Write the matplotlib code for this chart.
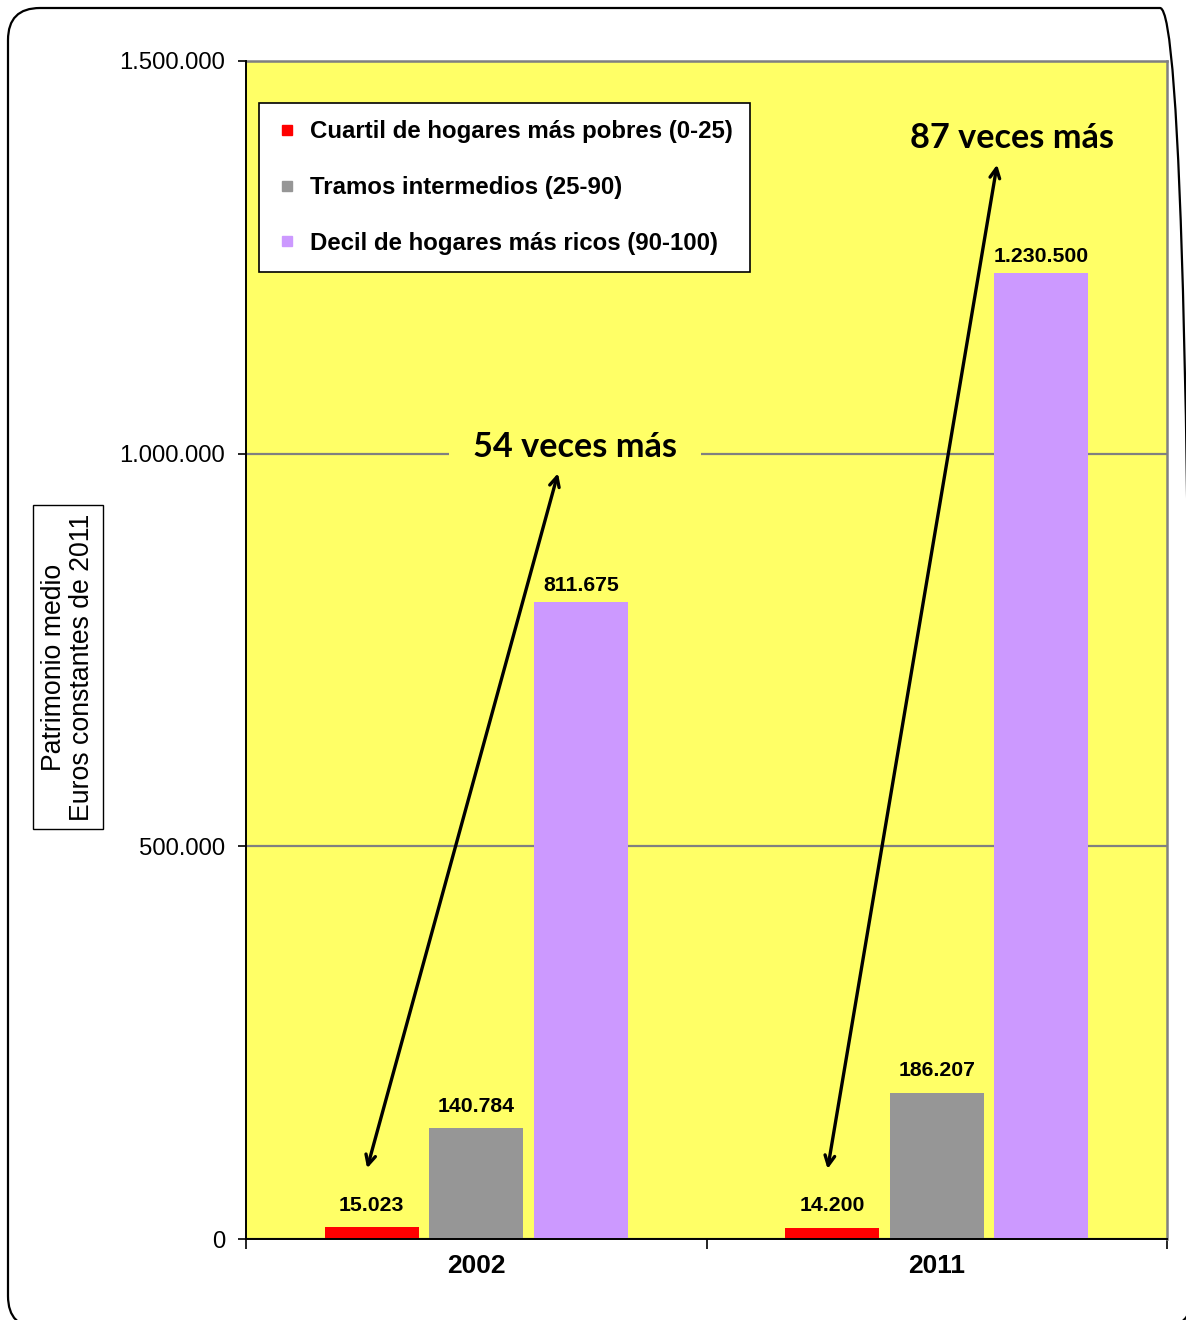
import matplotlib
matplotlib.use("Agg")
import matplotlib.pyplot as plt
from matplotlib.lines import Line2D
from matplotlib.patches import FancyBboxPatch
from matplotlib.ticker import FuncFormatter, FixedLocator
from matplotlib.transforms import Affine2D
import numpy as np

# Data: mean household wealth by group (constant 2011 euros)
years = ["2002", "2011"]
series_names = [
    "Cuartil de hogares más pobres (0-25)",
    "Tramos intermedios (25-90)",
    "Decil de hogares más ricos (90-100)",
]
poorest = [15023, 14200]
middle = [140784, 186207]
richest = [811675, 1230500]
ratio_labels = ["54 veces más", "87 veces más"]
y_ticks = [0, 500000, 1000000, 1500000]

colors = ["#FF0000", "#969696", "#CC99FF"]
plot_bg = "#FFFF66"
sans = ["Liberation Sans", "DejaVu Sans"]
plt.rcParams["font.family"] = sans


def es_fmt(v, _pos=None):
    return f"{v:,.0f}".replace(",", ".")


W, H = 1186, 1320
DPI = 100
fig = plt.figure(figsize=(W / DPI, H / DPI), dpi=DPI)
fig.patch.set_facecolor("white")

# rounded outer frame, laid out in pixel units (origin bottom-left)
px = Affine2D().scale(1 / DPI) + fig.dpi_scale_trans
frame = FancyBboxPatch((8, H - 1328), 1184, 1320,
                       boxstyle="round,pad=0,rounding_size=32",
                       transform=px, facecolor="none",
                       edgecolor="black", linewidth=1.6)
fig.patches.append(frame)

ax = fig.add_axes([246 / W, 1 - 1239 / H, (1167 - 246) / W, (1239 - 61) / H])
ax.set_facecolor(plot_bg)

x = np.arange(len(years))
width = 0.204
offsets = [-0.227, 0.0, 0.227]
all_series = [poorest, middle, richest]
label_pads = [9, 9, 5]

for vals, off, col, name, pad in zip(all_series, offsets, colors, series_names, label_pads):
    bc = ax.bar(x + off, vals, width, color=col, label=name, zorder=2)
    ax.bar_label(bc, labels=[es_fmt(v) for v in vals], padding=pad,
                 fontsize=15.3, fontweight="bold", family=sans, zorder=3)

ax.set_xlim(-0.5, len(years) - 0.5)
ax.set_ylim(0, 1500000)

# axes styling
for side in ["top", "right"]:
    ax.spines[side].set_color("#808080")
    ax.spines[side].set_linewidth(1.8)
for side in ["left", "bottom"]:
    ax.spines[side].set_color("black")
    ax.spines[side].set_linewidth(1.4)
    ax.spines[side].set_zorder(5)

ax.yaxis.set_major_locator(FixedLocator(y_ticks))
ax.yaxis.set_major_formatter(FuncFormatter(es_fmt))
ax.tick_params(axis="y", direction="out", length=6, width=1.2, pad=9,
               labelsize=17.2)
ax.grid(axis="y", color="#808080", linewidth=1.6, zorder=1)
ax.set_axisbelow(True)

ax.set_xticks(x)
ax.set_xticklabels(years, fontsize=19, fontweight="bold")
ax.tick_params(axis="x", which="major", length=0, pad=11)
ax.set_xticks(np.arange(-0.5, len(years)), minor=True)
ax.tick_params(axis="x", which="minor", direction="out", length=7, width=1.2)

# legend
handles = [Line2D([], [], marker="s", linestyle="", markersize=7.2,
                  markerfacecolor=c, markeredgecolor=c) for c in colors]
leg = ax.legend(handles, series_names, loc="upper left",
                bbox_to_anchor=((259 - 246) / 921, 1 - (103 - 61) / 1178),
                borderaxespad=0, frameon=True, fancybox=False,
                edgecolor="black", framealpha=1, facecolor="white",
                prop={"family": sans, "weight": "bold", "size": 17.3},
                handlelength=0.9, handletextpad=0.5, borderpad=0.72,
                labelspacing=1.36)
leg.get_frame().set_linewidth(1.2)
leg.set_zorder(6)

# ratio annotations: double arrows from the poorest bar to the ratio label
ratio_pos = [(0.214, 1008000), (1.163, 1402000)]
tips = [(0.1775, 975000), (1.131, 1368000)]
for i, (lab, (tx, ty), (ux, uy)) in enumerate(zip(ratio_labels, ratio_pos, tips)):
    lx = x[i] + offsets[0] - 0.01
    ly = poorest[i] + 75000
    ax.annotate("", xy=(ux, uy), xytext=(lx, ly),
                arrowprops=dict(arrowstyle="<->,head_length=0.7,head_width=0.35",
                                color="black", lw=2.4, shrinkA=0, shrinkB=0),
                zorder=7)
    bbox = dict(boxstyle="square,pad=0.7", facecolor=plot_bg, edgecolor="none") if i == 0 else None
    ax.text(tx, ty, lab, ha="center", va="center", fontsize=24.7,
            fontweight="bold", family=["Lato", "DejaVu Sans"], bbox=bbox,
            zorder=4)

# y-axis title in a framed box
fig.text(68 / W, 1 - 667 / H, "Patrimonio medio\nEuros constantes de 2011",
         rotation=90, ha="center", va="center", fontsize=19.2,
         linespacing=1.1, multialignment="center",
         bbox=dict(boxstyle="square,pad=0.3", facecolor="white",
                   edgecolor="black", linewidth=1.0))

fig.savefig("out.png", dpi=DPI)
